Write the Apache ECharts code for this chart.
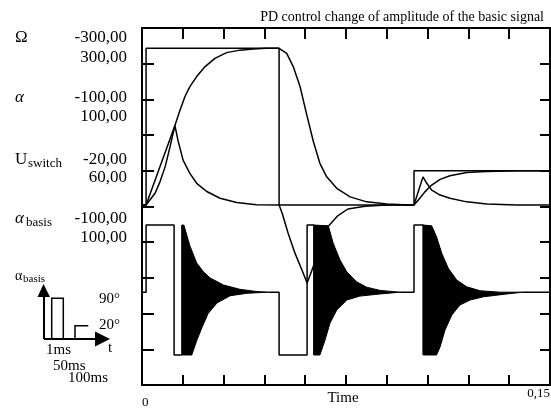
<!DOCTYPE html>
<html>
<head>
<meta charset="utf-8">
<title>PD control change of amplitude of the basic signal</title>
<script src="https://cdn.jsdelivr.net/npm/echarts@6/dist/echarts.min.js"></script>
<style>
  html, body { margin: 0; padding: 0; background: #fff; }
  #main { width: 551px; height: 414px; }
</style>
</head>
<body>
<div id="main"></div>
<script>
// time axis (s)
var timeMax = 0.15
var timeStep = 0.015
var timeLabels = ['0', '0,15']
var timeName = 'Time'

// channel labels on the left: name, subscript, scale values
var channelNames = ['Ω', 'α', 'U', 'α']
var channelSubs = ['', '', 'switch', 'basis']
var channelMin = ['-300,00', '-100,00', '-20,00', '-100,00']
var channelMax = ['300,00', '100,00', '60,00', '100,00']

// inset legend of the alpha_basis pulses
var insetTimes = ['1ms', '50ms', '100ms']
var insetAngles = ['90°', '20°']

// traces in divisions (0 = bottom frame, 10 = top frame)
var omegaT = [0, 0.0015, 0.0029, 0.0048, 0.0066, 0.0085, 0.0103, 0.0121, 0.014, 0.0158, 0.0176, 0.0201, 0.0232, 0.0268, 0.0311, 0.036, 0.0409, 0.0458,
  0.0504, 0.0532, 0.0556, 0.0581, 0.0606, 0.063, 0.0654, 0.0679, 0.0716, 0.0765, 0.0826, 0.09, 0.0985,
  0.1, 0.1016, 0.104, 0.1065, 0.1096, 0.1132, 0.1194, 0.1267, 0.1378, 0.15]
var omegaV = [5.04, 5.04, 5.18, 5.37, 5.69, 6.11, 6.67, 7.27, 7.7, 8.08, 8.36, 8.64, 8.92, 9.15, 9.31, 9.38, 9.41, 9.43,
  9.43, 9.29, 8.92, 8.36, 7.56, 6.82, 6.21, 5.83, 5.51, 5.27, 5.13, 5.07, 5.04,
  5.04, 5.18, 5.41, 5.6, 5.76, 5.86, 5.95, 5.98, 6.0, 6.0]

var alphaT = [0, 0.0015, 0.0121, 0.0132, 0.0151, 0.0176, 0.0201, 0.0238, 0.0287, 0.0348, 0.0421,
  0.0504, 0.0515, 0.0537, 0.0562, 0.0588, 0.0607, 0.0625, 0.0685, 0.0718, 0.0757, 0.082, 0.09,
  0.1, 0.1033, 0.1047, 0.1065, 0.1096, 0.1132, 0.1194, 0.1268, 0.1378, 0.15]
var alphaV = [5.04, 5.04, 7.27, 6.86, 6.3, 5.93, 5.65, 5.42, 5.23, 5.11, 5.05,
  5.04, 4.82, 4.26, 3.7, 3.22, 2.86, 3.22, 4.45, 4.73, 4.93, 5.01, 5.04,
  5.04, 5.83, 5.65, 5.46, 5.32, 5.23, 5.13, 5.07, 5.04, 5.04]

var switchT = [0, 0.0015, 0.0015, 0.0504, 0.0504, 0.1, 0.1, 0.15]
var switchV = [5.04, 5.04, 9.43, 9.43, 5.04, 5.04, 6.0, 6.0]

// alpha_basis square parts (null = where the oscillation bursts are)
var basisT = [0, 0.0015, 0.0015, 0.0118, 0.0118, 0.0146, null, 0.0465, 0.0504, 0.0504, 0.0607, 0.0607, 0.0632, 0.0632, null,
  0.0949, 0.1, 0.1, 0.1034, 0.1034, null, 0.14, 0.15]
var basisV = [2.6, 2.6, 4.48, 4.48, 0.84, 0.84, null, 2.6, 2.6, 0.84, 0.84, 4.48, 4.48, 0.84, null,
  2.6, 2.6, 4.48, 4.48, 0.84, null, 2.6, 2.6]

// envelopes of the fast alpha_basis oscillation
var burst1Upper = [[0.0146, 4.48], [0.0154, 4.48], [0.0176, 3.9], [0.0201, 3.42], [0.0225, 3.18], [0.025, 3.0], [0.03, 2.8], [0.036, 2.68], [0.042, 2.62], [0.0465, 2.6]]
var burst1Lower = [[0.0146, 0.84], [0.0183, 0.84], [0.0202, 1.26], [0.0221, 1.62], [0.0243, 2.0], [0.0276, 2.3], [0.0324, 2.5], [0.0386, 2.57], [0.0465, 2.6]]
var burst2Upper = [[0.0632, 4.48], [0.0685, 4.46], [0.0703, 3.97], [0.0728, 3.5], [0.0753, 3.17], [0.0789, 2.89], [0.0826, 2.74], [0.0875, 2.65], [0.0949, 2.6]]
var burst2Lower = [[0.0632, 0.84], [0.0654, 0.84], [0.0673, 1.26], [0.0691, 1.73], [0.0716, 2.1], [0.0753, 2.38], [0.0801, 2.49], [0.0875, 2.55], [0.0949, 2.6]]
var burst3Upper = [[0.1034, 4.48], [0.1065, 4.46], [0.1083, 4.15], [0.1102, 3.69], [0.1126, 3.27], [0.1157, 2.94], [0.1194, 2.75], [0.1243, 2.64], [0.1316, 2.6], [0.14, 2.6]]
var burst3Lower = [[0.1034, 0.84], [0.1083, 0.84], [0.1096, 1.07], [0.1114, 1.54], [0.1139, 1.96], [0.1169, 2.24], [0.1206, 2.38], [0.1255, 2.47], [0.1341, 2.55], [0.14, 2.6]]

var bursts = [[burst1Upper, burst1Lower], [burst2Upper, burst2Lower], [burst3Upper, burst3Lower]]

var serif = 'Liberation Serif'

function pairs (ts, vs) {
  return ts.map(function (t, i) {
    if (vs[i] === null) return [ts[i - 1], '-']
    return [t, vs[i]]
  })
}

function trace (name, ts, vs) {
  return {
    name: name,
    type: 'line',
    data: pairs(ts, vs),
    symbol: 'none',
    connectNulls: false,
    lineStyle: { color: '#000', width: 1.5 },
    z: 3
  }
}

// left channel labels + inset drawing
var graphics = []
var rowY = [38, 98, 160, 219]
var rowY2 = [58, 117, 178, 238]
channelNames.forEach(function (n, i) {
  graphics.push({
    type: 'text', x: 15, y: rowY[i],
    style: { text: n, font: (i === 1 || i === 3 ? 'italic ' : '') + '17px ' + serif, fill: '#000', textVerticalAlign: 'middle' }
  })
  if (channelSubs[i]) {
    graphics.push({
      type: 'text', x: i === 2 ? 28 : 26, y: rowY[i] + 4,
      style: { text: channelSubs[i], font: '13px ' + serif, fill: '#000', textVerticalAlign: 'middle' }
    })
  }
  graphics.push({
    type: 'text', x: 127, y: rowY[i],
    style: { text: channelMin[i], font: '17px ' + serif, fill: '#000', textAlign: 'right', textVerticalAlign: 'middle' }
  })
  graphics.push({
    type: 'text', x: 127, y: rowY2[i],
    style: { text: channelMax[i], font: '17px ' + serif, fill: '#000', textAlign: 'right', textVerticalAlign: 'middle' }
  })
})

// axis title under the time axis
graphics.push({
  type: 'text', x: 343, y: 398,
  style: { text: timeName, font: '15px ' + serif, fill: '#000', textAlign: 'center', textVerticalAlign: 'middle' }
})

// inset: alpha_basis pulse sketch
var ink = { stroke: '#000', fill: null, lineWidth: 2 }
graphics.push(
  { type: 'text', x: 15, y: 276, style: { text: 'α', font: '14px ' + serif, fill: '#000', textVerticalAlign: 'middle' } },
  { type: 'text', x: 23, y: 279, style: { text: 'basis', font: '11px ' + serif, fill: '#000', textVerticalAlign: 'middle' } },
  { type: 'polyline', shape: { points: [[44, 339], [44, 296]] }, style: ink },
  { type: 'polygon', shape: { points: [[43.5, 284], [37.5, 297], [50, 297]] }, style: { fill: '#000' } },
  { type: 'polyline', shape: { points: [[44, 339], [96, 339]] }, style: ink },
  { type: 'polygon', shape: { points: [[95, 331.5], [95, 346.5], [110, 339]] }, style: { fill: '#000' } },
  { type: 'polyline', shape: { points: [[51.7, 339], [51.7, 298.3], [63.3, 298.3], [63.3, 339]] }, style: { stroke: '#000', fill: null, lineWidth: 1.5 } },
  { type: 'polyline', shape: { points: [[75, 339], [75, 325.7], [88.3, 325.7]] }, style: { stroke: '#000', fill: null, lineWidth: 1.5 } },
  { type: 'text', x: 99, y: 299, style: { text: insetAngles[0], font: '15px ' + serif, fill: '#000', textVerticalAlign: 'middle' } },
  { type: 'text', x: 99, y: 325, style: { text: insetAngles[1], font: '15px ' + serif, fill: '#000', textVerticalAlign: 'middle' } },
  { type: 'text', x: 108, y: 348, style: { text: 't', font: '15px ' + serif, fill: '#000', textVerticalAlign: 'middle' } },
  { type: 'text', x: 46, y: 350, style: { text: insetTimes[0], font: '15px ' + serif, fill: '#000', textVerticalAlign: 'middle' } },
  { type: 'text', x: 53, y: 366, style: { text: insetTimes[1], font: '15px ' + serif, fill: '#000', textVerticalAlign: 'middle' } },
  { type: 'text', x: 68, y: 378, style: { text: insetTimes[2], font: '15px ' + serif, fill: '#000', textVerticalAlign: 'middle' } }
)

var frameLine = { show: true, onZero: false, lineStyle: { color: '#000', width: 2 } }
var inTick = function (len) { return { show: true, inside: true, length: len, lineStyle: { color: '#000', width: 2 } } }

var option = {
  backgroundColor: '#fff',
  animation: false,
  title: {
    text: 'PD control change of amplitude of the basic signal',
    right: 2,
    top: 5,
    textStyle: { fontFamily: serif, fontSize: 14, fontWeight: 'normal', color: '#000' }
  },
  grid: { left: 142, top: 28, right: 1, bottom: 29, containLabel: false, outerBoundsMode: 'none' },
  xAxis: [
    {
      type: 'value', position: 'bottom', min: 0, max: timeMax, interval: timeStep,
      axisLine: frameLine, axisTick: inTick(10), splitLine: { show: false },
      axisLabel: {
        showMinLabel: true, showMaxLabel: true,
        alignMinLabel: 'left', alignMaxLabel: 'right',
        margin: 2, fontFamily: serif, fontSize: 13, color: '#000',
        formatter: function (v) {
          if (v === 0) return '{lo|' + timeLabels[0] + '}'
          if (Math.abs(v - timeMax) < 1e-9) return timeLabels[1]
          return ''
        },
        rich: { lo: { padding: [9, 0, 0, 0], fontFamily: serif, fontSize: 13, color: '#000' } }
      }
    },
    {
      type: 'value', position: 'top', min: 0, max: timeMax, interval: timeStep,
      axisLine: frameLine, axisTick: inTick(11), axisLabel: { show: false }, splitLine: { show: false }
    }
  ],
  yAxis: [
    {
      type: 'value', position: 'left', min: 0, max: 10, interval: 1,
      axisLine: frameLine, axisTick: inTick(12), axisLabel: { show: false }, splitLine: { show: false }
    },
    {
      type: 'value', position: 'right', min: 0, max: 10, interval: 1,
      axisLine: frameLine, axisTick: inTick(10), axisLabel: { show: false }, splitLine: { show: false }
    }
  ],
  graphic: graphics,
  series: [
    {
      name: 'α_basis burst',
      type: 'custom',
      renderItem: function (params, api) {
        var b = bursts[params.dataIndex]
        var pts = b[0].map(function (p) { return api.coord(p) })
          .concat(b[1].slice().reverse().map(function (p) { return api.coord(p) }))
        return { type: 'polygon', shape: { points: pts }, style: { fill: '#000', stroke: '#000', lineWidth: 1 } }
      },
      data: bursts.map(function (b) { return b[0][0] }),
      z: 2
    },
    trace('α_basis', basisT, basisV),
    trace('U_switch', switchT, switchV),
    trace('α', alphaT, alphaV),
    trace('Ω', omegaT, omegaV)
  ]
}

var myChart = echarts.init(document.getElementById('main'))
myChart.setOption(option)
</script>
</body>
</html>
